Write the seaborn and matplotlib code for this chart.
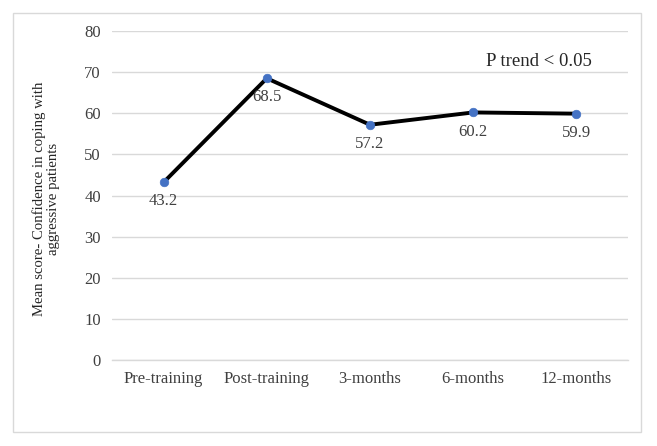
import matplotlib
matplotlib.use("Agg")
import matplotlib.pyplot as plt
from matplotlib.patches import Rectangle
import pandas as pd
import seaborn as sns

# Data
periods = ["Pre-training", "Post-training", "3-months", "6-months", "12-months"]
mean_scores = [43.2, 68.5, 57.2, 60.2, 59.9]
y_ticks = [0, 10, 20, 30, 40, 50, 60, 70, 80]
trend_note = "P trend < 0.05"
y_label = "Mean score- Confidence in coping with\naggressive patients"

sns.set_theme(style="white")
plt.rcParams["font.family"] = ["Liberation Serif", "DejaVu Serif"]

df = pd.DataFrame({"period": periods, "score": mean_scores})
df["pos"] = range(len(periods))

fig = plt.figure(figsize=(6.57, 4.46), dpi=100)
ax = fig.add_axes([112 / 657, 1 - 360 / 446, 516 / 657, 329 / 446])

sns.lineplot(data=df, x="pos", y="score", ax=ax, color="black",
             linewidth=2.8, zorder=2)
sns.scatterplot(data=df, x="pos", y="score", ax=ax, color="#4472C4",
                s=38, edgecolor="#4472C4", zorder=3)

for _, row in df.iterrows():
    ax.annotate(f"{row.score:.1f}", (row.pos, row.score),
                xytext=(0, -8), textcoords="offset points",
                ha="center", va="top", fontsize=12, color="#404040")

ax.set_xlim(-0.5, len(periods) - 0.5)
ax.set_ylim(0, 80)
ax.set_yticks(y_ticks)
ax.set_xticks(range(len(periods)))
ax.set_xticklabels(periods)
ax.tick_params(axis="both", labelsize=12, colors="#404040", length=0, pad=8)
ax.set_xticks([i - 0.5 for i in range(len(periods) + 1)], minor=True)
ax.tick_params(axis="x", which="minor", length=4, color="#d9d9d9", width=1)
ax.yaxis.grid(True, color="#d9d9d9", linewidth=1)
ax.set_axisbelow(True)
for side in ["left", "right", "top"]:
    ax.spines[side].set_visible(False)
ax.spines["bottom"].set_color("#d9d9d9")
ax.spines["bottom"].set_linewidth(1)
ax.set_xlabel("")
ax.set_ylabel(y_label, fontsize=10.6, color="#262626", linespacing=1.05)
ax.yaxis.set_label_coords(-0.128, 0.49)
ax.yaxis.label.set_verticalalignment("center")

ax.text(4.15, 72.5, trend_note, ha="right", va="center", fontsize=13.5,
        color="#262626")

fig.patches.append(Rectangle((13 / 657, 1 - 432 / 446), 628 / 657, 419 / 446,
                             transform=fig.transFigure, fill=False,
                             edgecolor="#d9d9d9", linewidth=1))

fig.savefig("out.png", dpi=100)
